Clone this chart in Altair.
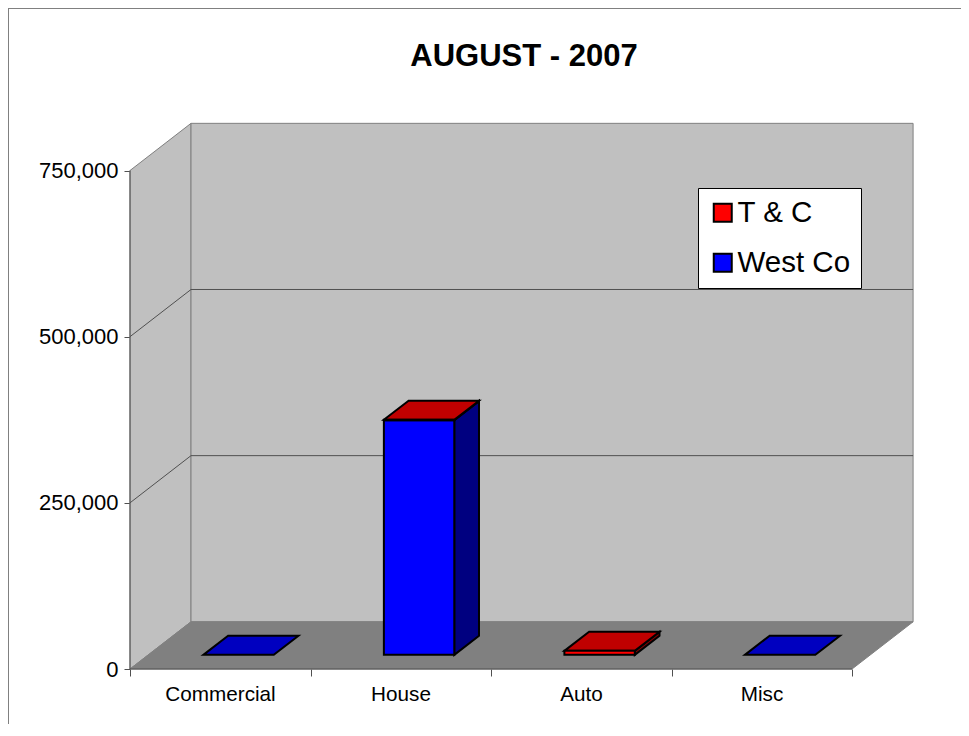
import altair as alt
import pandas as pd

TITLE = "AUGUST - 2007"
categories = ["Commercial", "House", "Auto", "Misc"]
series_names = ["T & C", "West Co"]
t_c = [0, 600, 6000, 0]
west_co = [0, 353000, 0, 0]
y_ticks = [0, 250000, 500000, 750000]

FONT = "Liberation Sans"
# depth vector of the pseudo-3D box, in data units
DX, DY = 0.338, 71000
XMAX, YMAX = 4.332, 820000
BAR0, BAR1 = 0.305, 0.695   # bar extent within its category
D0, D1 = 0.30, 0.705        # bar extent in depth
WALL, FLOOR = "#C0C0C0", "#808080"
LINE = "#505050"
FACE = {
    "West Co": {"front": "#0000FF", "top": "#0000C0", "side": "#000080"},
    "T & C": {"front": "#FF0000", "top": "#C00000", "side": "#800000"},
}

xs = alt.Scale(domain=[0, XMAX], nice=False, zero=False)
ys = alt.Scale(domain=[0, YMAX], nice=False, zero=False)

label_expr = "[" + ",".join(f"'{c}'" for c in categories) + ",''][datum.value]"
x_axis = alt.Axis(
    values=list(range(len(categories) + 1)), labelExpr=label_expr, labelOffset=90,
    labelAngle=0, domain=False, grid=False, title=None, tickSize=7, tickColor=LINE,
    labelFont=FONT, labelFontSize=20.7, labelColor="black", labelPadding=8,
    labelOverlap=False, labelFlush=False,
)
y_axis = alt.Axis(
    values=y_ticks, format=",.0f", domain=False, grid=False, title=None, tickSize=6,
    tickColor=LINE, labelFont=FONT, labelFontSize=22, labelColor="black",
    labelPadding=6, labelOverlap=False, labelFlush=False,
)


def X(f="x"):
    return alt.X(f, type="quantitative", scale=xs, axis=x_axis)


def Y(f="y"):
    return alt.Y(f, type="quantitative", scale=ys, stack=None, axis=y_axis)


# --- box walls and floor ---------------------------------------------
left_wall = pd.DataFrame([
    {"x": d * DX, "y": d * DY, "y2": y_ticks[-1] + d * DY} for d in (0, 1)
])
back_wall = pd.DataFrame([{"x": DX, "x2": DX + len(categories),
                           "y": DY, "y2": y_ticks[-1] + DY}])
floor = pd.DataFrame([
    {"y": d * DY, "x": d * DX, "x2": d * DX + len(categories)} for d in (0, 1)
])

wall_style = dict(fill=WALL, stroke=FLOOR, strokeWidth=1)
base_layers = [
    alt.Chart(left_wall).mark_area(**wall_style).encode(x=X(), y=Y(), y2="y2"),
    alt.Chart(back_wall).mark_rect(**wall_style).encode(x=X(), x2="x2", y=Y(), y2="y2"),
    alt.Chart(floor).mark_area(orient="horizontal", fill=FLOOR, stroke=FLOOR, strokeWidth=1)
    .encode(y=Y(), x=X(), x2="x2"),
]

# gridlines across left wall and back wall
grid_rows = []
for v in y_ticks[1:-1]:
    grid_rows += [
        {"v": v, "x": 0, "y": v},
        {"v": v, "x": DX, "y": v + DY},
        {"v": v, "x": DX + len(categories), "y": v + DY},
    ]
grid = alt.Chart(pd.DataFrame(grid_rows)).mark_line(color=LINE, strokeWidth=1).encode(
    x=X(), y=Y(), detail="v:N", order="x:Q"
)

# front edges (axis lines), drawn over the floor
axis_lines = pd.DataFrame([
    {"k": "v", "x": 0, "y": 0}, {"k": "v", "x": 0, "y": y_ticks[-1]},
    {"k": "h", "x": 0, "y": 0}, {"k": "h", "x": len(categories), "y": 0},
])
edges = alt.Chart(axis_lines).mark_line(color=LINE, strokeWidth=1).encode(
    x=X(), y=Y(), detail="k:N"
)

# --- bars -------------------------------------------------------------
fronts, sides, tops = [], [], []
for i, cat in enumerate(categories):
    base = 0
    top_series = "West Co"
    for name, val in (("West Co", west_co[i]), ("T & C", t_c[i])):
        if val > 0:
            top_series = name
            x0 = i + BAR0 + D0 * DX
            fronts.append({"series": name, "x": x0, "x2": x0 + BAR1 - BAR0,
                           "y": base + D0 * DY, "y2": base + val + D0 * DY})
            for d in (D0, D1):
                sides.append({"id": f"{i}{name}", "fill": FACE[name]["side"],
                              "x": i + BAR1 + d * DX,
                              "y": base + d * DY, "y2": base + val + d * DY})
            base += val
    for d in (D0, D1):
        tops.append({"id": f"{i}", "fill": FACE[top_series]["top"],
                     "y": base + d * DY,
                     "x": i + BAR0 + d * DX, "x2": i + BAR1 + d * DX})

bar_stroke = dict(stroke="black", strokeWidth=2, strokeJoin="miter")
side_layer = alt.Chart(pd.DataFrame(sides)).mark_area(**bar_stroke).encode(
    x=X(), y=Y(), y2="y2", detail="id:N", color=alt.Color("fill:N", scale=None)
)
top_layer = alt.Chart(pd.DataFrame(tops)).mark_area(orient="horizontal", **bar_stroke).encode(
    y=Y(), x=X(), x2="x2", detail="id:N", color=alt.Color("fill:N", scale=None)
)
front_layer = alt.Chart(pd.DataFrame(fronts)).mark_rect(**bar_stroke).encode(
    x=X(), x2="x2", y=Y(), y2="y2",
    fill=alt.Fill(
        "series:N",
        scale=alt.Scale(domain=series_names,
                        range=[FACE[s]["front"] for s in series_names]),
        legend=alt.Legend(
            title=None, orient="none", legendX=568, legendY=64, fillColor="white",
            strokeColor="black", padding=10, symbolType="square", symbolSize=324,
            symbolStrokeColor="black", symbolStrokeWidth=2, symbolOpacity=1,
            labelFont=FONT, labelFontSize=29.5, labelColor="black", labelLimit=300,
            rowPadding=19, labelOffset=0,
        ),
    ),
)

# outer frame of the picture (left and top edges)
frame = pd.DataFrame({"k": [0]})
frame_left = alt.Chart(frame).mark_rule(color=FLOOR, strokeWidth=1).encode(
    x=alt.value(-121.5), y=alt.value(-116), y2=alt.value(620)
)
frame_top = alt.Chart(frame).mark_rule(color=FLOOR, strokeWidth=1).encode(
    y=alt.value(-115.5), x=alt.value(-122), x2=alt.value(840)
)

chart = alt.layer(
    frame_left, frame_top, *base_layers, grid, edges,
    side_layer, top_layer, front_layer,
).properties(
    width=782,
    height=545,
    autosize=alt.AutoSizeParams(type="none"),
    padding={"left": 122, "top": 116, "right": 49, "bottom": 55},
    background="white",
    title=alt.TitleParams(
        TITLE, font=FONT, fontSize=31, fontWeight="bold", color="black",
        anchor="middle", dx=3, dy=65, offset=0,
    ),
).configure_view(stroke=None)

chart.save("out.html", embed_options={"renderer": "svg", "actions": False})
